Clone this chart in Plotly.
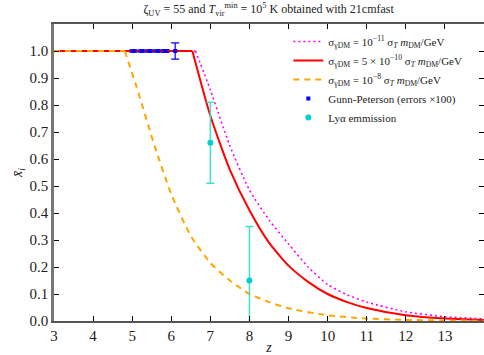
import plotly.graph_objects as go

# Data
z_magenta = [3, 6.62, 7.0, 7.49, 8.0, 8.5, 9.0, 9.5, 10.0, 10.5, 11, 12, 13, 14]
x_magenta = [1, 1, 0.856, 0.652, 0.485, 0.375, 0.285, 0.20, 0.135, 0.097, 0.07, 0.034, 0.016, 0.008]

z_red = [3, 6.54, 7.0, 7.5, 8.0, 8.5, 9.0, 9.5, 10.0, 10.5, 11, 12, 13, 14]
x_red = [1, 1, 0.76, 0.56, 0.41, 0.29, 0.205, 0.145, 0.10, 0.07, 0.048, 0.021, 0.009, 0.004]

z_orange = [3, 4.81, 5.11, 5.58, 6.0, 6.5, 7.0, 7.5, 8.0, 8.5, 9, 10, 11, 12, 13, 14]
x_orange = [1, 1, 0.868, 0.646, 0.47, 0.315, 0.215, 0.15, 0.10, 0.07, 0.047, 0.021, 0.009, 0.004, 0.002, 0.001]

z_gp = [5.03, 5.25, 5.45, 5.65, 5.85, 6.1]
x_gp = [1.0, 1.0, 1.0, 1.0, 1.0, 1.0]
err_gp = [0.004, 0.004, 0.004, 0.004, 0.005, 0.03]

z_lya = [7, 8]
x_lya = [0.66, 0.15]
err_lya = [0.15, 0.2]

x_ticks = list(range(3, 14))
y_ticks = [round(0.1 * i, 1) for i in range(11)]

FONT = "Liberation Serif"
sig = "σ<sub>γDM</sub> = "
tail = " σ<sub><i>T</i></sub> <i>m</i><sub>DM</sub>/GeV"

fig = go.Figure()


def add_curve(z, x, name, line, group):
    # flat part (x = 1) drawn straight, decaying part drawn smooth
    k = max(i for i, v in enumerate(x) if v == 1)
    fig.add_trace(go.Scatter(x=z[:k + 1], y=x[:k + 1], mode="lines", line=line,
                             legendgroup=group, showlegend=False, hoverinfo="skip"))
    fig.add_trace(go.Scatter(x=z[k:], y=x[k:], mode="lines",
                             line=dict(line, shape="spline", smoothing=0.6),
                             legendgroup=group, name=name))


add_curve(z_magenta, x_magenta, sig + "10<sup>−11</sup>" + tail,
          dict(color="magenta", width=1.6, dash="2px,3px"), "m")
add_curve(z_red, x_red, sig + "5 × 10<sup>−10</sup>" + tail,
          dict(color="red", width=2), "r")
add_curve(z_orange, x_orange, sig + "10<sup>−8</sup>" + tail,
          dict(color="orange", width=2, dash="6px,5px"), "o")

fig.add_trace(go.Scatter(x=z_gp, y=x_gp, mode="markers",
                         marker=dict(color="blue", size=4, symbol="square"),
                         error_y=dict(type="data", array=err_gp, color="blue",
                                      thickness=1.2, width=4),
                         name="Gunn-Peterson (errors ×100)"))
fig.add_trace(go.Scatter(x=z_lya, y=x_lya, mode="markers",
                         marker=dict(color="darkturquoise", size=6),
                         error_y=dict(type="data", array=err_lya, color="#40E0D0",
                                      thickness=1.5, width=4),
                         name="Lyα emmission"))

axis_common = dict(showline=True, mirror="ticks", ticks="inside", ticklen=5,
                   tickcolor="black", showgrid=False, zeroline=False, automargin=False,
                   tickfont=dict(family=FONT, size=15, color="#222"))

fig.update_layout(
    width=484, height=355,
    margin=dict(l=54, r=0, t=24, b=34, autoexpand=False),
    plot_bgcolor="white", paper_bgcolor="white",
    font=dict(family=FONT, color="#222"),
    title=dict(text="ζ<sub>UV</sub> = 55 and <i>T</i><sub>vir</sub><sup>min</sup> = 10<sup>5</sup> K obtained with 21cmfast",
               x=0.555, xanchor="center", y=0.975, yanchor="middle",
               font=dict(family=FONT, size=12)),
    xaxis=dict(range=[3, 14], tickvals=x_ticks, ticktext=[str(t) for t in x_ticks],
               linecolor="#555", linewidth=1.5,
               title=dict(text="<i>z</i>", font=dict(family=FONT, size=14), standoff=6),
               **axis_common),
    yaxis=dict(range=[0, 1.1], tickvals=y_ticks, ticktext=[f"{t:.1f}" for t in y_ticks],
               linecolor="#777", linewidth=2.5,
               title=dict(text="<i>x̄</i><sub><i>i</i></sub>", font=dict(family=FONT, size=14), standoff=4),
               **axis_common),
    legend=dict(x=0.545, y=0.99, xanchor="left", yanchor="top",
                bgcolor="rgba(255,255,255,0)", borderwidth=0,
                font=dict(family=FONT, size=11), tracegroupgap=0,
                itemwidth=30),
    showlegend=True,
)

fig.write_html("out.html")
